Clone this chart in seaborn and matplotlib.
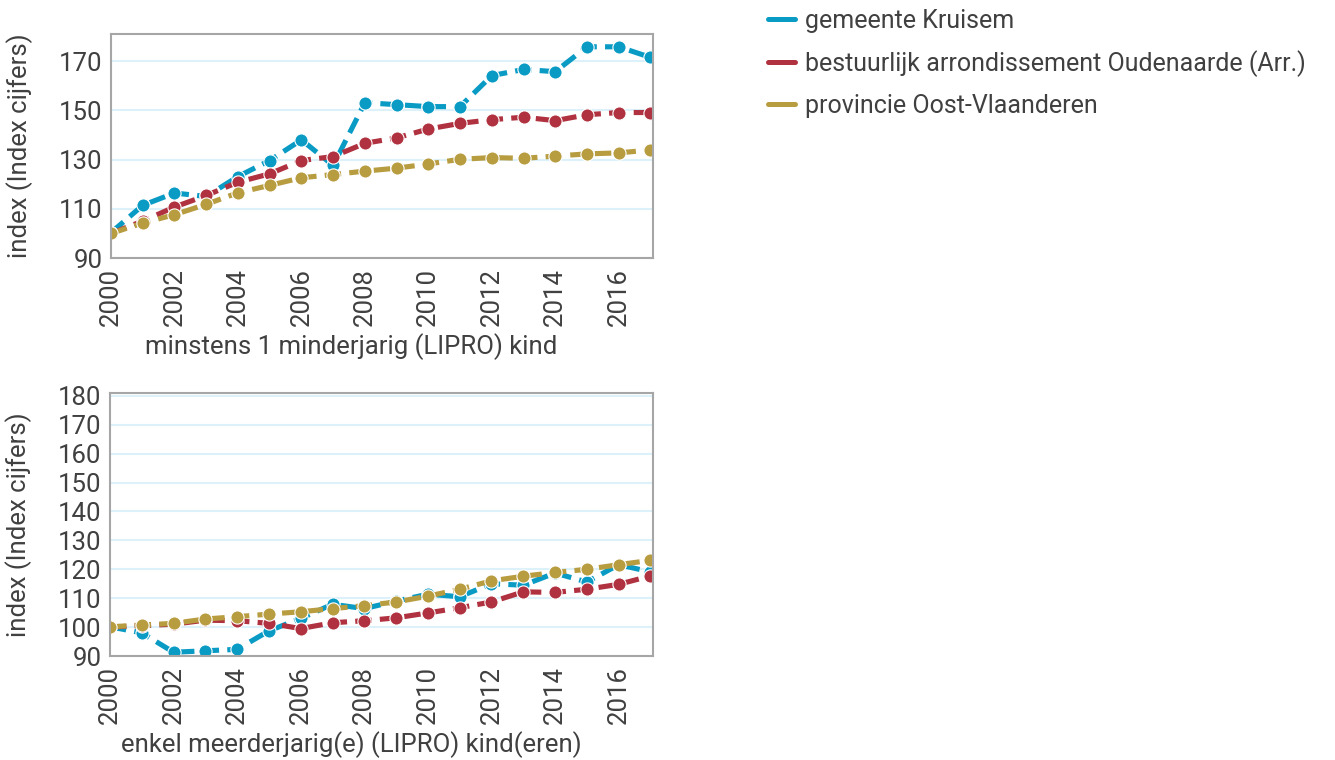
import pandas as pd
import seaborn as sns
import matplotlib.pyplot as plt
from matplotlib.lines import Line2D

# ------------------ DATA ------------------
years = list(range(2000, 2018))
series = ['gemeente Kruisem',
          'bestuurlijk arrondissement Oudenaarde (Arr.)',
          'provincie Oost-Vlaanderen']
colors = ['#0a9bc5', '#b0313f', '#b89c40']

# minstens 1 minderjarig (LIPRO) kind
kruisem_minor = [100.3, 111.4, 116.4, 115.0, 123.1, 129.6, 138.0, 127.6, 153.1,
                 152.3, 151.5, 151.5, 164.1, 166.6, 165.7, 175.8, 175.8, 171.5]
arr_minor = [100.0, 105.0, 110.7, 115.4, 120.8, 124.2, 129.6, 131.2, 136.6,
             138.8, 142.4, 144.7, 146.2, 147.2, 145.8, 148.2, 149.1, 149.1]
prov_minor = [100.0, 104.2, 107.6, 111.8, 116.5, 119.5, 122.6, 123.9, 125.3,
              126.5, 128.2, 130.1, 130.8, 130.5, 131.4, 132.3, 132.7, 133.9]

# enkel meerderjarig(e) (LIPRO) kind(eren)
kruisem_adult = [100.1, 98.0, 91.3, 91.8, 92.3, 98.7, 103.0, 107.9, 106.4,
                 109.0, 111.4, 110.5, 115.0, 114.5, 118.7, 115.6, 121.6, 119.1]
arr_adult = [100.0, 100.5, 101.0, 102.4, 102.2, 101.3, 99.5, 101.5, 102.2,
             103.2, 104.9, 106.7, 108.7, 112.2, 112.0, 113.1, 114.8, 117.7]
prov_adult = [100.1, 100.7, 101.3, 102.8, 103.6, 104.5, 105.3, 106.4, 107.4,
              108.7, 110.7, 113.1, 116.0, 117.6, 118.9, 120.0, 121.6, 123.1]

titles = ['minstens 1 minderjarig (LIPRO) kind',
          'enkel meerderjarig(e) (LIPRO) kind(eren)']
ylabel = 'index (Index cijfers)'


def make_df(a, b, c):
    return pd.DataFrame({
        'jaar': years * 3,
        'index': a + b + c,
        'gebied': [series[0]] * 18 + [series[1]] * 18 + [series[2]] * 18,
    })


df_minor = make_df(kruisem_minor, arr_minor, prov_minor)
df_adult = make_df(kruisem_adult, arr_adult, prov_adult)

# ------------------ STYLE ------------------
sns.set_style('white')
plt.rcParams['font.family'] = ['Roboto', 'DejaVu Sans']
text_col = '#404040'
fs = 18.5

fig = plt.figure(figsize=(13.35, 7.6), dpi=100)
ax1 = fig.add_axes([111 / 1335, 1 - 258 / 760, 542 / 1335, 224 / 760])
ax2 = fig.add_axes([110 / 1335, 1 - 656 / 760, 543 / 1335, 263 / 760])

panels = [(ax1, df_minor, [90, 110, 130, 150, 170], -0.335),
          (ax2, df_adult, list(range(90, 181, 10)), -0.285)]

for (ax, df, yt, lab_y), title in zip(panels, titles):
    sns.lineplot(data=df, x='jaar', y='index', hue='gebied',
                 hue_order=series, palette=colors, ax=ax, legend=False,
                 linewidth=3.7, linestyle=(0, (3.2, 1.6)), marker='o',
                 markersize=9.5, markeredgecolor='white', markeredgewidth=0.8)
    ax.set_xlim(2000, 2017.08)
    ax.set_ylim(90, 181)
    ax.set_yticks(yt)
    ax.set_xticks(range(2000, 2017, 2))
    ax.tick_params(axis='x', rotation=90, length=0, pad=7, labelsize=fs,
                   labelcolor=text_col)
    ax.tick_params(axis='y', length=0, pad=6, labelsize=fs, labelcolor=text_col)
    ax.yaxis.grid(True, color='#dcf1fa', linewidth=1.5)
    ax.xaxis.grid(False)
    ax.set_axisbelow(True)
    for sp in ax.spines.values():
        sp.set_visible(True)
        sp.set_color('#a6a6a6')
        sp.set_linewidth(1.5)
    ax.set_xlabel(title, fontsize=fs, color=text_col)
    ax.xaxis.set_label_coords(0.444, lab_y)
    ax.set_ylabel(ylabel, fontsize=fs, color=text_col)
    ax.yaxis.set_label_coords(-0.143, 0.5)

handles = [Line2D([0], [0], color=c, linewidth=3.6) for c in colors]
fig.legend(handles, series, loc='upper left', bbox_to_anchor=(754 / 1335, 1.006),
           frameon=False, fontsize=18, labelcolor=text_col, handlelength=1.1,
           handletextpad=0.4, labelspacing=0.67, borderaxespad=0.15)

plt.savefig('out.png', dpi=100)
